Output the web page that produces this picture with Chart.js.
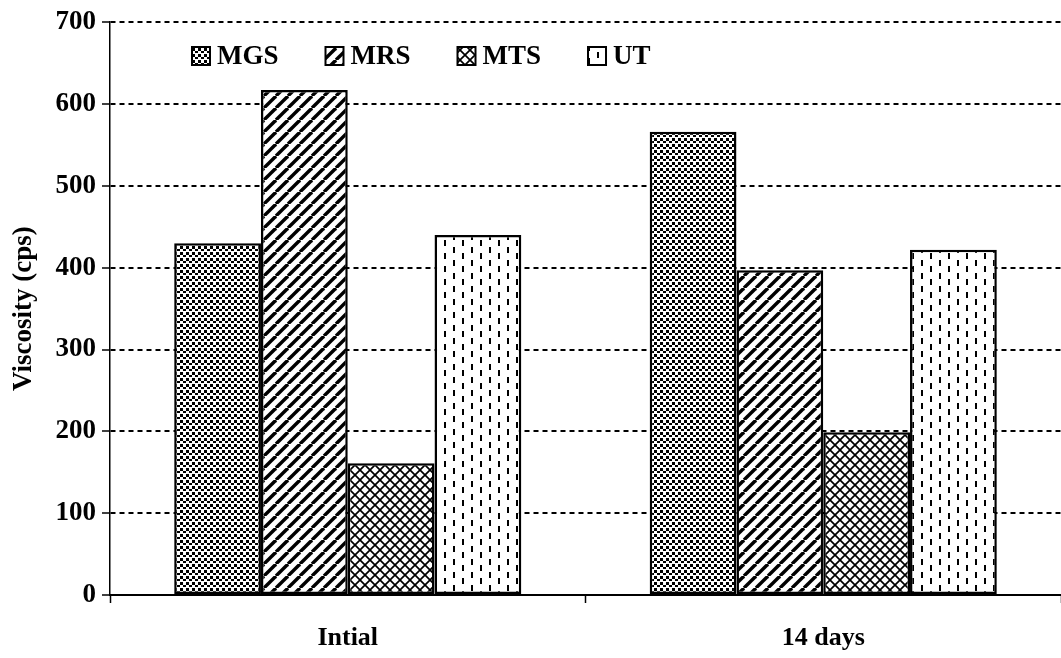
<!DOCTYPE html>
<html>
<head>
<meta charset="utf-8">
<style>
  html, body { margin: 0; padding: 0; background: #fff; }
  #wrap { width: 1061px; height: 658px; }
</style>
<script src="https://cdn.jsdelivr.net/npm/chart.js@4/dist/chart.umd.min.js"></script>
</head>
<body>
<div id="wrap"><canvas id="myChart" width="1061" height="658"></canvas></div>
<script>
// viscosity of each formulation, initial and after 14 days
const periods = ["Intial", "14 days"];
const mgs = [430, 566];
const mrs = [617, 397];
const mts = [161, 199];
const ut = [440, 422];
const yTicks = [0, 100, 200, 300, 400, 500, 600, 700];

const FONT = "'Liberation Serif', 'Times New Roman', serif";

// small offscreen tile -> repeating fill
const makePattern = (w, h, draw) => {
  const c = document.createElement('canvas');
  c.width = w;
  c.height = h;
  const g = c.getContext('2d');
  g.fillStyle = '#fff';
  g.fillRect(0, 0, w, h);
  g.fillStyle = '#000';
  g.strokeStyle = '#000';
  draw(g, w, h);
  return c.getContext('2d').createPattern(c, 'repeat');
};

// staggered little blocks
const dotsFill = makePattern(6, 6, (g) => {
  g.fillRect(0, 0, 3, 3);
  g.fillRect(3, 3, 3, 2);
});

// forward diagonal stripes
const stripeFill = makePattern(12, 12, (g, s) => {
  g.lineWidth = 3.4;
  for (let k = -1; k <= 1; k++) {
    g.beginPath();
    g.moveTo(k * s, s);
    g.lineTo(k * s + s, 0);
    g.stroke();
  }
});

// diagonal cross hatch
const hatchFill = makePattern(10, 10, (g, s) => {
  g.lineWidth = 1.7;
  for (let k = -1; k <= 1; k++) {
    g.beginPath();
    g.moveTo(k * s, s);
    g.lineTo(k * s + s, 0);
    g.moveTo(k * s, 0);
    g.lineTo(k * s + s, s);
    g.stroke();
  }
});

// short vertical dashes, every other column shifted
const dashFill = makePattern(18, 13, (g) => {
  g.fillRect(3, 0, 2, 6);
  g.fillRect(12, 6, 2, 6);
});

const barStyle = {
  borderColor: '#000',
  borderWidth: 2.5,
  borderSkipped: false,
  barPercentage: 1,
  categoryPercentage: 0.73
};

// legend sits inside the plot, just under the top line
const insideLegend = {
  id: 'insideLegend',
  afterDraw(chart) {
    const ctx = chart.ctx;
    const area = chart.chartArea;
    let x = area.left + 82;
    const y = 56;
    ctx.save();
    ctx.font = `bold 27px ${FONT}`;
    ctx.textBaseline = 'middle';
    chart.data.datasets.forEach((ds) => {
      ctx.fillStyle = ds.backgroundColor;
      ctx.fillRect(x, y - 9, 18, 18);
      ctx.lineWidth = 2;
      ctx.strokeStyle = '#000';
      ctx.strokeRect(x, y - 9, 18, 18);
      ctx.fillStyle = '#000';
      ctx.fillText(ds.label, x + 25, y + 1);
      x += 25 + ctx.measureText(ds.label).width + 47;
    });
    ctx.restore();
  }
};

new Chart(document.getElementById('myChart'), {
  type: 'bar',
  data: {
    labels: periods,
    datasets: [
      { ...barStyle, label: 'MGS', data: mgs, backgroundColor: dotsFill },
      { ...barStyle, label: 'MRS', data: mrs, backgroundColor: stripeFill },
      { ...barStyle, label: 'MTS', data: mts, backgroundColor: hatchFill },
      { ...barStyle, label: 'UT', data: ut, backgroundColor: dashFill }
    ]
  },
  options: {
    responsive: false,
    animation: false,
    events: [],
    layout: { padding: { top: 22, right: 0, bottom: 0, left: 0 } },
    plugins: {
      legend: { display: false },
      tooltip: { enabled: false }
    },
    scales: {
      x: {
        afterFit: (scale) => { scale.height = 63; },
        grid: {
          drawOnChartArea: false,
          drawTicks: true,
          tickLength: 8,
          tickColor: '#000',
          tickWidth: 1.5
        },
        border: { display: true, color: '#000', width: 2 },
        ticks: {
          color: '#000',
          padding: 20,
          font: { family: FONT, size: 26, weight: 'bold' }
        }
      },
      y: {
        min: 0,
        max: 700,
        afterFit: (scale) => { scale.width = 110; },
        afterBuildTicks: (scale) => {
          scale.ticks = yTicks.map((v) => ({ value: v }));
        },
        grid: {
          color: '#000',
          lineWidth: 2,
          drawTicks: true,
          tickLength: 8,
          tickColor: '#000',
          tickWidth: 1.5,
          tickBorderDash: []
        },
        border: { display: true, color: '#000', width: 1.5, dash: [5, 4] },
        ticks: {
          color: '#000',
          padding: 6,
          font: { family: FONT, size: 27, weight: 'bold' }
        },
        title: {
          display: true,
          text: 'Viscosity (cps)',
          color: '#000',
          padding: { top: 8, bottom: 0 },
          font: { family: FONT, size: 27, weight: 'bold' }
        }
      }
    }
  },
  plugins: [insideLegend]
});
</script>
</body>
</html>
